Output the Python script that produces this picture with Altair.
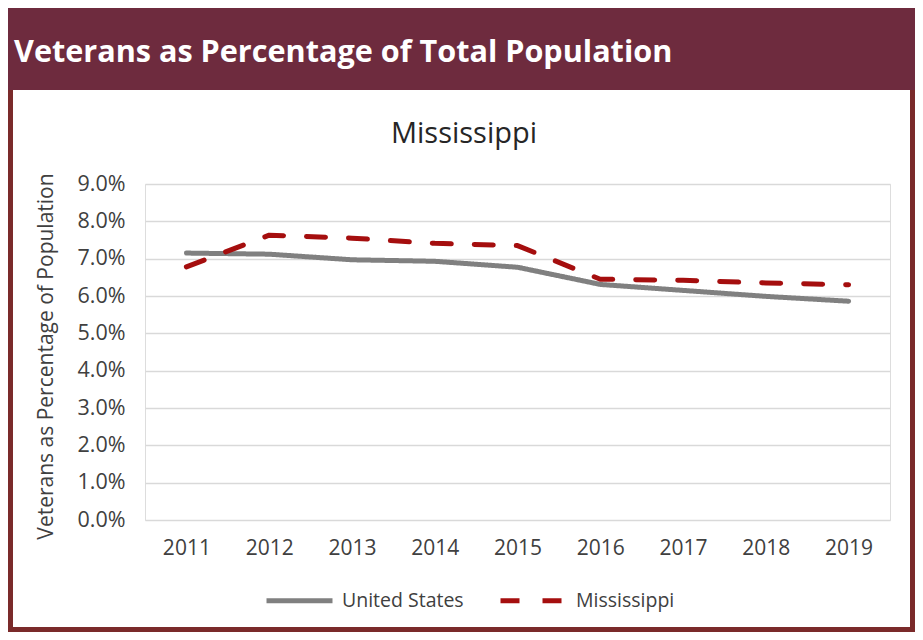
import altair as alt
import pandas as pd

years = ["2011", "2012", "2013", "2014", "2015", "2016", "2017", "2018", "2019"]
us_pct = [7.15, 7.12, 6.97, 6.93, 6.77, 6.31, 6.15, 5.99, 5.86]
ms_pct = [6.78, 7.63, 7.55, 7.41, 7.35, 6.45, 6.42, 6.35, 6.30]
series_names = ["United States", "Mississippi"]
y_ticks = [0.0, 0.01, 0.02, 0.03, 0.04, 0.05, 0.06, 0.07, 0.08, 0.09]
header_text = "Veterans as Percentage of Total Population"
chart_title = "Mississippi"
y_title = "Veterans as Percentage of Population"

rows = []
for i, yr in enumerate(years):
    rows.append({"year": yr, "series": series_names[0], "value": us_pct[i] / 100})
    rows.append({"year": yr, "series": series_names[1], "value": ms_pct[i] / 100})
df = pd.DataFrame(rows)

W, H = 745, 336
LEFT, TOP = 137, 176
TOTAL_W, TOTAL_H = 907, 624
FONT = "Open Sans"
MAROON = "#6E2B3E"
BORDER = "#7A2A2A"

legend = alt.Legend(
    orient="none", legendX=119, legendY=381, direction="horizontal", title=None,
    symbolType="stroke", symbolSize=4356, symbolStrokeWidth=5,
    labelFontSize=19.5, labelFont=FONT, labelColor="#404040",
    columnPadding=26, labelOffset=7, padding=0,
)

color_scale = alt.Scale(domain=series_names, range=["#808080", "#A50E0E"])
dash_scale = alt.Scale(domain=series_names, range=[[1, 0], [19, 23]])

lines = alt.Chart(df).mark_line(strokeWidth=5, strokeCap="round", strokeJoin="round").encode(
    x=alt.X("year:O", scale=alt.Scale(type="point", padding=0.5),
            axis=alt.Axis(title=None, labelAngle=0, domain=False, ticks=False, grid=False,
                          labelFontSize=21, labelFont=FONT, labelColor="#404040", labelPadding=17)),
    y=alt.Y("value:Q", scale=alt.Scale(domain=[0, 0.09], nice=False),
            axis=alt.Axis(values=y_ticks, format=".1%", domain=False, ticks=False, grid=True,
                          gridColor="#D9D9D9", gridWidth=1.5,
                          labelFontSize=21.5, labelFont=FONT, labelColor="#404040", labelPadding=20,
                          title=y_title, titleFont=FONT, titleFontSize=21, titleFontWeight="normal",
                          titleColor="#404040", titleAngle=270, titleX=-99, titleY=172,
                          titleBaseline="middle", titleAlign="center")),
    color=alt.Color("series:N", scale=color_scale, sort=series_names, legend=legend),
    strokeDash=alt.StrokeDash("series:N", scale=dash_scale, sort=series_names, legend=legend),
)

one = pd.DataFrame({"a": [0]})

border = alt.Chart(one).mark_rect(fillOpacity=0, stroke=BORDER, strokeWidth=5).encode(
    x=alt.value(2.5 - LEFT), x2=alt.value(TOTAL_W - 2.5 - LEFT),
    y=alt.value(-97), y2=alt.value(TOTAL_H - 2.5 - TOP),
)

header = alt.Chart(one).mark_rect(color=MAROON).encode(
    x=alt.value(-LEFT), x2=alt.value(TOTAL_W - LEFT),
    y=alt.value(-TOP), y2=alt.value(82 - TOP),
)

header_label = alt.Chart(one).mark_text(
    text=header_text, font=FONT, fontWeight="bold", fontSize=30.6, color="white",
    align="left", baseline="alphabetic",
).encode(x=alt.value(6 - LEFT), y=alt.value(54 - TOP))

title_label = alt.Chart(one).mark_text(
    text=chart_title, font=FONT, fontSize=29, color="#262626",
    align="center", baseline="alphabetic",
).encode(x=alt.value(456 - LEFT), y=alt.value(135 - TOP))

chart = alt.layer(border, header, lines, header_label, title_label).properties(
    width=W, height=H,
    padding={"left": LEFT, "top": TOP, "right": TOTAL_W - LEFT - W, "bottom": TOTAL_H - TOP - H},
    autosize=alt.AutoSizeParams(type="none"),
).configure_view(stroke=None).configure(background="white")

chart.save("out.html", embed_options={"renderer": "svg", "actions": False})
